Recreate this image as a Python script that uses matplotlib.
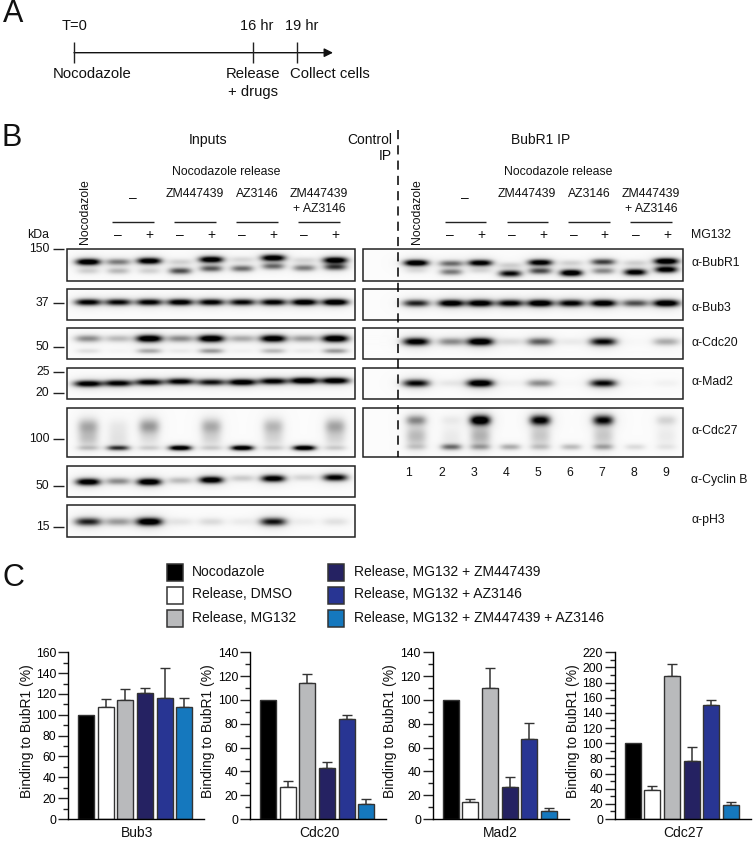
"""Timeline, western blot panels and BubR1 binding bars, laid out in pixels."""

import matplotlib

matplotlib.use("Agg")
import matplotlib.pyplot as plt
import numpy as np
from matplotlib.patches import Rectangle
from matplotlib.ticker import MultipleLocator

plt.rcParams["font.family"] = ["Liberation Sans", "DejaVu Sans"]

W, H = 756, 841
FS = 10.0
SMALL = 8.8

# --- bar chart data ---
conditions = [
    "Nocodazole",
    "Release, DMSO",
    "Release, MG132",
    "Release, MG132 + ZM447439",
    "Release, MG132 + AZ3146",
    "Release, MG132 + ZM447439 + AZ3146",
]
proteins = ["Bub3", "Cdc20", "Mad2", "Cdc27"]
bub3_values = [100, 107.5, 114, 121, 116.5, 107.5]
bub3_tops = [100, 115, 125, 126, 145, 116]
cdc20_values = [100, 26.5, 114, 43, 84, 12.5]
cdc20_tops = [100, 32, 121.5, 47.5, 87.5, 16.5]
mad2_values = [100, 14, 110, 26.5, 67.5, 6.5]
mad2_tops = [100, 16.5, 126.5, 35, 81, 9]
cdc27_values = [100, 38, 189, 76, 150, 18]
cdc27_tops = [100, 44, 205, 95, 157, 22]
y_maxes = [160, 140, 140, 220]
bar_colors = ["#000000", "#ffffff", "#b9babc", "#252262", "#283593", "#1578be"]

# --- blot band intensities per lane, inputs ---
in_bubr1_upper = [1.0, 0.4, 0.95, 0.12, 0.95, 0.1, 0.95, 0.1, 0.95]
in_bubr1_lower = [0.12, 0.2, 0.12, 0.55, 0.5, 0.45, 0.45, 0.4, 0.6]
in_bub3 = [0.85, 0.8, 0.85, 0.9, 0.85, 0.8, 0.85, 0.95, 1.0]
in_cdc20_upper = [0.35, 0.2, 1.0, 0.35, 1.0, 0.25, 0.95, 0.3, 1.0]
in_cdc20_lower = [0.08, 0.02, 0.25, 0.05, 0.3, 0.03, 0.2, 0.05, 0.3]
in_mad2 = [0.9, 0.85, 0.85, 0.85, 0.75, 0.95, 0.85, 1.0, 0.95]
in_cdc27_smear = [0.24, 0.05, 0.3, 0.0, 0.24, 0.0, 0.2, 0.0, 0.26]
in_cdc27_mid = [0.16, 0.07, 0.07, 0.0, 0.1, 0.0, 0.1, 0.0, 0.1]
in_cdc27_low = [0.15, 0.65, 0.12, 1.0, 0.12, 1.0, 0.12, 1.0, 0.12]
in_cyclinb = [0.95, 0.35, 1.0, 0.2, 0.95, 0.15, 0.9, 0.12, 0.85]
in_ph3 = [0.7, 0.3, 1.0, 0.07, 0.1, 0.05, 0.75, 0.04, 0.08]

# --- blot band intensities per lane, BubR1 IP ---
ip_bubr1_upper = [1.0, 0.45, 0.9, 0.12, 0.9, 0.12, 0.6, 0.12, 1.0]
ip_bubr1_lower = [0.08, 0.4, 0.1, 0.8, 0.55, 1.0, 0.35, 0.9, 0.9]
ip_bub3 = [0.7, 0.95, 0.95, 0.85, 1.0, 0.85, 0.95, 0.55, 1.0]
ip_cdc20 = [0.9, 0.35, 1.0, 0.1, 0.5, 0.05, 0.8, 0.01, 0.25]
ip_mad2 = [0.8, 0.06, 1.0, 0.03, 0.35, 0.01, 0.8, 0.01, 0.03]
ip_cdc27_upper = [0.35, 0.05, 1.0, 0.0, 0.85, 0.0, 0.8, 0.0, 0.12]
ip_cdc27_mid = [0.2, 0.05, 0.22, 0.0, 0.15, 0.0, 0.15, 0.0, 0.05]
ip_cdc27_low = [0.12, 0.45, 0.25, 0.25, 0.15, 0.2, 0.25, 0.1, 0.06]

in_lanes = [88, 118, 149, 180, 211, 242, 273, 304, 335]
ip_lanes = [416, 451, 480, 510, 540, 571, 603, 635, 666]
lane_numbers = ["1", "2", "3", "4", "5", "6", "7", "8", "9"]
mw_labels = ["150", "37", "50", "25", "20", "100", "50", "15"]
mw_y = [249, 303, 347, 372, 393, 439, 486, 527]
blot_labels = ["α-BubR1", "α-Bub3", "α-Cdc20", "α-Mad2", "α-Cdc27", "α-Cyclin B", "α-pH3"]
blot_label_y = [263, 308, 343, 382, 431, 480, 520]


def blot(canvas, x0, x1, y0, y1, lanes, bands):
    # bands: (y per lane or single y, intensities, half height, half width)
    xs = np.arange(x0, x1, 0.5)
    ys = np.arange(y0, y1, 0.5)
    xx, yy = np.meshgrid(xs, ys)
    dark = np.zeros_like(xx)
    for y, levels, hh, hw in bands:
        y_list = y if isinstance(y, list) else [y] * len(lanes)
        for lane, by, level in zip(lanes, y_list, levels):
            dx = np.abs(xx - lane)
            dy = yy - by
            dark += 1.15 * level * np.exp(-(dx / (hw + 1)) ** 3 - (dy / (hh * 1.2)) ** 2)
            dark += 0.14 * level * np.exp(-(dx / (hw + 4)) ** 2 - (dy / (hh * 2.6)) ** 2)
    img = 0.985 - 0.985 * np.clip(dark, 0, 1)
    canvas.imshow(img, extent=(x0, x1, y1, y0), cmap="gray", vmin=0, vmax=1,
                  aspect="auto", interpolation="bilinear", zorder=1)
    canvas.add_patch(Rectangle((x0, y0), x1 - x0, y1 - y0, fill=False, ec="#222222",
                               lw=1.1, zorder=2))


fig = plt.figure(figsize=(W / 100, H / 100), dpi=100, facecolor="white")
canvas = fig.add_axes([0, 0, 1, 1])
canvas.axis("off")


def label(x, y, text, ha="center", size=FS, **kw):
    canvas.text(x, y, text, ha=ha, va="center", fontsize=size, color="#111111", **kw)


def line(xs, ys, lw=1.0, **kw):
    canvas.plot(xs, ys, color="#222222", lw=lw, solid_capstyle="butt", zorder=3, **kw)


# panel letters
label(13, 14, "A", size=22)
label(12, 138, "B", size=22)
label(13, 578, "C", size=22)

# A: timeline
canvas.annotate("", xy=(333, 52.7), xytext=(74, 52.7),
                arrowprops=dict(arrowstyle="-|>", color="#111111", lw=1.0, mutation_scale=13,
                                shrinkA=0, shrinkB=0))
for x in [74, 253, 297.3]:
    line([x, x], [42, 63])
label(74.5, 26, "T=0", size=10.5)
label(257, 26, "16 hr", size=10.5)
label(302, 26, "19 hr", size=10.5)
label(92, 74, "Nocodazole", size=10.7)
label(253, 74, "Release", size=10.7)
label(253, 92, "+ drugs", size=10.7)
label(330, 74, "Collect cells", size=10.7)

# B: headers
label(208, 140, "Inputs", size=10.2)
label(392, 140, "Control", ha="right")
label(392, 156, "IP", ha="right")
label(541, 140, "BubR1 IP")
for cx in [226, 558]:
    label(cx, 171.7, "Nocodazole release", size=SMALL)
for x in [85, 417]:
    label(x, 212, "Nocodazole", rotation=90, size=SMALL)
for dash_x, zm_x, az_x, both_x in [(132.7, 195, 257, 319), (465, 527, 589, 651)]:
    label(dash_x, 198, "–")
    label(zm_x, 194, "ZM447439", size=SMALL)
    label(az_x, 194, "AZ3146", size=SMALL)
    label(both_x, 194, "ZM447439", size=SMALL)
    label(both_x, 209, "+ AZ3146", size=SMALL)
for x0, x1 in [(112, 154), (174, 216), (236, 278), (298, 340),
               (445, 486), (507, 548), (568, 610), (630, 672)]:
    line([x0, x1], [221.7, 221.7])
for lanes in [[118, 149, 180, 211, 242, 273, 304, 335], [450, 481, 512, 543, 574, 604, 636, 667]]:
    for i, x in enumerate(lanes):
        label(x, 235, "–" if i % 2 == 0 else "+")
label(38, 235, "kDa", size=SMALL)
label(691, 235, "MG132", ha="left", size=SMALL)

# B: input blots
blot(canvas, 67, 355, 249, 281, in_lanes, [
    ([261.7, 261.7, 260.7, 261.7, 259.3, 259.3, 257.7, 260, 260], in_bubr1_upper, 2.6, 11),
    ([270.7, 270.7, 270.7, 270.7, 268.3, 268.3, 266, 267.7, 266.7], in_bubr1_lower, 2.6, 10),
])
blot(canvas, 67, 355, 289, 320, in_lanes, [(302, in_bub3, 2.6, 12)])
blot(canvas, 67, 355, 328, 359, in_lanes, [(339, in_cdc20_upper, 2.8, 12), (351, in_cdc20_lower, 2.0, 11)])
blot(canvas, 67, 355, 368, 399, in_lanes, [
    ([383.5, 383, 382, 381.3, 382, 382, 381, 380.5, 380.5], in_mad2, 2.6, 13),
])
blot(canvas, 67, 355, 408, 457, in_lanes, [
    (426, in_cdc27_smear, 6.0, 9), (438, in_cdc27_mid, 7.0, 9), (447.7, in_cdc27_low, 2.0, 10),
])
blot(canvas, 67, 355, 466, 497, in_lanes, [
    ([481.7, 481, 481.7, 480.3, 479.7, 478, 478.3, 477.3, 477.3], in_cyclinb, 2.8, 11),
])
blot(canvas, 67, 355, 505, 537, in_lanes, [(521.5, in_ph3, 3.2, 12)])

# B: IP blots
blot(canvas, 363, 683, 249, 281, ip_lanes, [
    ([262.7, 263.3, 262.7, 265, 262.3, 262.7, 261.7, 262.7, 261], ip_bubr1_upper, 2.5, 11),
    ([270, 271.7, 270, 273.3, 270.7, 272.7, 270.7, 272, 269.3], ip_bubr1_lower, 2.6, 10),
])
blot(canvas, 363, 683, 289, 320, ip_lanes, [(303, ip_bub3, 2.8, 12)])
blot(canvas, 363, 683, 328, 359, ip_lanes, [(342, ip_cdc20, 3.0, 12)])
blot(canvas, 363, 683, 368, 399, ip_lanes, [(383, ip_mad2, 3.0, 12)])
blot(canvas, 363, 683, 408, 457, ip_lanes, [
    (420, ip_cdc27_upper, 4.0, 9), (436, ip_cdc27_mid, 8.0, 9), (446.7, ip_cdc27_low, 2.4, 9),
])

# control IP divider
canvas.plot([398.3, 398.3], [130, 457], color="black", lw=1.1, ls=(0, (6, 4)), zorder=4)

# B: side labels
for text, y in zip(mw_labels, mw_y):
    label(49.5, y, text, ha="right", size=SMALL)
    line([53, 64], [y, y])
for text, y in zip(blot_labels, blot_label_y):
    label(691, y, text, ha="left", size=SMALL)
for text, x in zip(lane_numbers, [409, 442, 474, 506, 538, 570, 602, 634, 666]):
    label(x, 472.7, text, size=SMALL)

# C: legend
legend_slots = [(166.7, 564), (166.7, 587), (166.7, 610), (328, 564), (328, 587), (328, 610)]
for name, color, (x, y) in zip(conditions, bar_colors, legend_slots):
    canvas.add_patch(Rectangle((x, y), 16, 16.5, fc=color, ec="#333333", lw=1.1, zorder=2))
    label(x + 25.5, y + 7.5, name, ha="left")

canvas.set_xlim(0, W)
canvas.set_ylim(H, 0)

# C: bars
series = [
    (bub3_values, bub3_tops),
    (cdc20_values, cdc20_tops),
    (mad2_values, mad2_tops),
    (cdc27_values, cdc27_tops),
]
spines_x = [68, 250, 432.7, 614.7]
ylabel_x = [26.7, 208, 390, 573]
name_x = [136.7, 319, 500, 683]
SLOT = 19.67

for (values, tops), y_max, sx, lx, nx, name in zip(series, y_maxes, spines_x, ylabel_x, name_x, proteins):
    ax = fig.add_axes([sx / W, (H - 819) / H, 136 / W, 166.7 / H])
    ax.patch.set_alpha(0)
    pos = np.arange(len(values))
    ax.bar(pos, values, width=0.81, color=bar_colors, edgecolor="#333333", linewidth=1.0, zorder=2)
    for x, v, top in zip(pos, values, tops):
        if top > v:
            ax.errorbar([x], [v], yerr=[[0], [top - v]], color="#333333", elinewidth=1.1,
                        capsize=3.6, capthick=1.0, zorder=1)
    ax.set_xlim(-18 / SLOT, (136 - 18) / SLOT)
    ax.set_ylim(0, y_max)
    ax.set_xticks([])
    ax.yaxis.set_major_locator(MultipleLocator(20))
    ax.yaxis.set_minor_locator(MultipleLocator(10))
    ax.tick_params(axis="y", which="major", length=7, width=1.0, labelsize=SMALL, pad=1.5, color="#222222")
    ax.tick_params(axis="y", which="minor", length=3.6, width=1.0, color="#222222")
    ax.spines[["top", "right"]].set_visible(False)
    ax.spines[["left", "bottom"]].set_linewidth(1.0)
    label(lx, 731, "Binding to BubR1 (%)", rotation=90)
    label(nx, 832.7, name)

fig.savefig("out.png", dpi=100)
plt.close(fig)
